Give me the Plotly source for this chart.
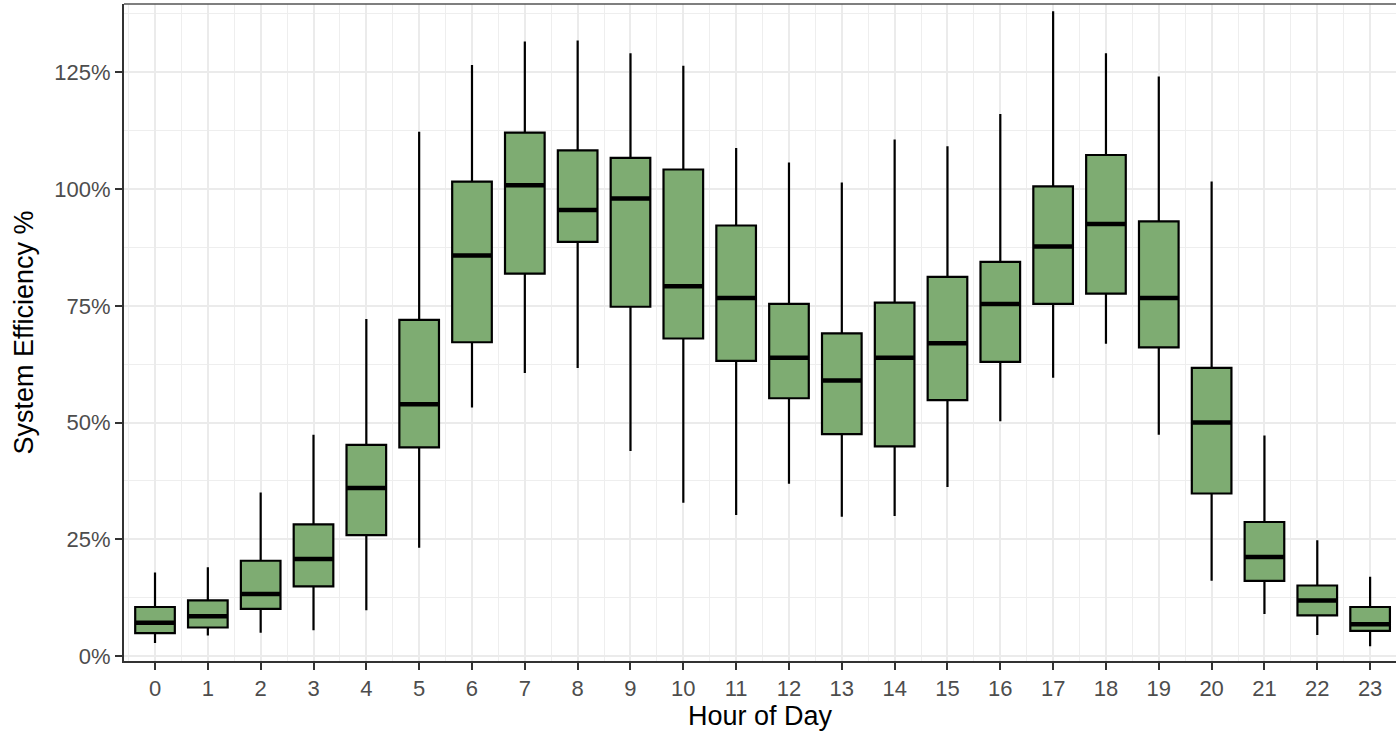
import plotly.graph_objects as go

# ---- data ----
hours = list(range(24))
hour_labels = [str(h) for h in hours]
upper_whisker = [0.179, 0.190, 0.350, 0.474, 0.722, 1.123, 1.266, 1.316, 1.318, 1.291, 1.264, 1.088,
                 1.057, 1.014, 1.106, 1.092, 1.161, 1.381, 1.291, 1.241, 1.016, 0.472, 0.248, 0.170]
q3_values = [0.105, 0.119, 0.204, 0.282, 0.452, 0.720, 1.016, 1.121, 1.083, 1.067, 1.042, 0.922,
             0.754, 0.691, 0.757, 0.812, 0.844, 1.006, 1.073, 0.931, 0.617, 0.287, 0.151, 0.105]
median_values = [0.071, 0.085, 0.133, 0.208, 0.360, 0.539, 0.858, 1.008, 0.955, 0.980, 0.792, 0.767,
                 0.639, 0.590, 0.639, 0.670, 0.754, 0.877, 0.925, 0.767, 0.500, 0.212, 0.119, 0.068]
q1_values = [0.049, 0.061, 0.101, 0.149, 0.259, 0.447, 0.672, 0.819, 0.887, 0.748, 0.680, 0.632,
             0.552, 0.475, 0.449, 0.548, 0.630, 0.754, 0.776, 0.661, 0.348, 0.161, 0.087, 0.054]
lower_whisker = [0.028, 0.044, 0.050, 0.055, 0.098, 0.232, 0.532, 0.606, 0.617, 0.439, 0.328, 0.302,
                 0.369, 0.298, 0.300, 0.362, 0.503, 0.596, 0.669, 0.474, 0.161, 0.090, 0.045, 0.021]
y_tick_values = [0, 0.25, 0.5, 0.75, 1.0, 1.25]
y_tick_labels = ["0%", "25%", "50%", "75%", "100%", "125%"]

BOX_WIDTH = 0.75
FILL = "#7EAC72"
FONT = "Liberation Sans, Arial, sans-serif"

fig = go.Figure()
fig.add_trace(go.Box(
    x=hours, q1=q1_values, median=median_values, q3=q3_values,
    lowerfence=lower_whisker, upperfence=upper_whisker,
    width=BOX_WIDTH, whiskerwidth=0, fillcolor=FILL,
    line=dict(color="black", width=2.2), boxpoints=False,
    showlegend=False, hoverinfo="skip",
))

# thicker median bars (ggplot style), derived from the data arrays
mx, my = [], []
for h, m in zip(hours, median_values):
    mx += [h - BOX_WIDTH / 2, h + BOX_WIDTH / 2, None]
    my += [m, m, None]
fig.add_trace(go.Scatter(x=mx, y=my, mode="lines", line=dict(color="black", width=4.5),
                         showlegend=False, hoverinfo="skip"))

axis_common = dict(
    showgrid=True, gridcolor="#EBEBEB", gridwidth=1.6,
    zeroline=False, showline=True, linecolor="#333333", linewidth=2,
    ticks="outside", ticklen=7, tickwidth=2, tickcolor="#333333",
    tickfont=dict(family=FONT, size=22, color="#4D4D4D"),
)

fig.update_layout(
    width=1396, height=732,
    margin=dict(l=124, r=0, t=4, b=71),
    plot_bgcolor="white", paper_bgcolor="white",
    xaxis=dict(
        **axis_common,
        range=[-0.587, 23.49],
        tickmode="array", tickvals=hours, ticktext=hour_labels,
        minor=dict(dtick=0.5, tick0=0, showgrid=True, gridcolor="#EEEEEE", gridwidth=1),
        title=dict(text="Hour of Day", font=dict(family=FONT, size=27, color="black"), standoff=6),
    ),
    yaxis=dict(
        **axis_common,
        range=[-0.0107, 1.3964],
        tickmode="array", tickvals=y_tick_values, ticktext=y_tick_labels,
        minor=dict(dtick=0.125, tick0=0, showgrid=True, gridcolor="#EEEEEE", gridwidth=1),
        title=dict(text="System Efficiency %", font=dict(family=FONT, size=27, color="black"), standoff=13),
    ),
    shapes=[dict(type="line", xref="paper", yref="paper", x0=0, x1=1, y0=1, y1=1,
                 line=dict(color="#555555", width=1.5))],
)

fig.write_html("out.html")
